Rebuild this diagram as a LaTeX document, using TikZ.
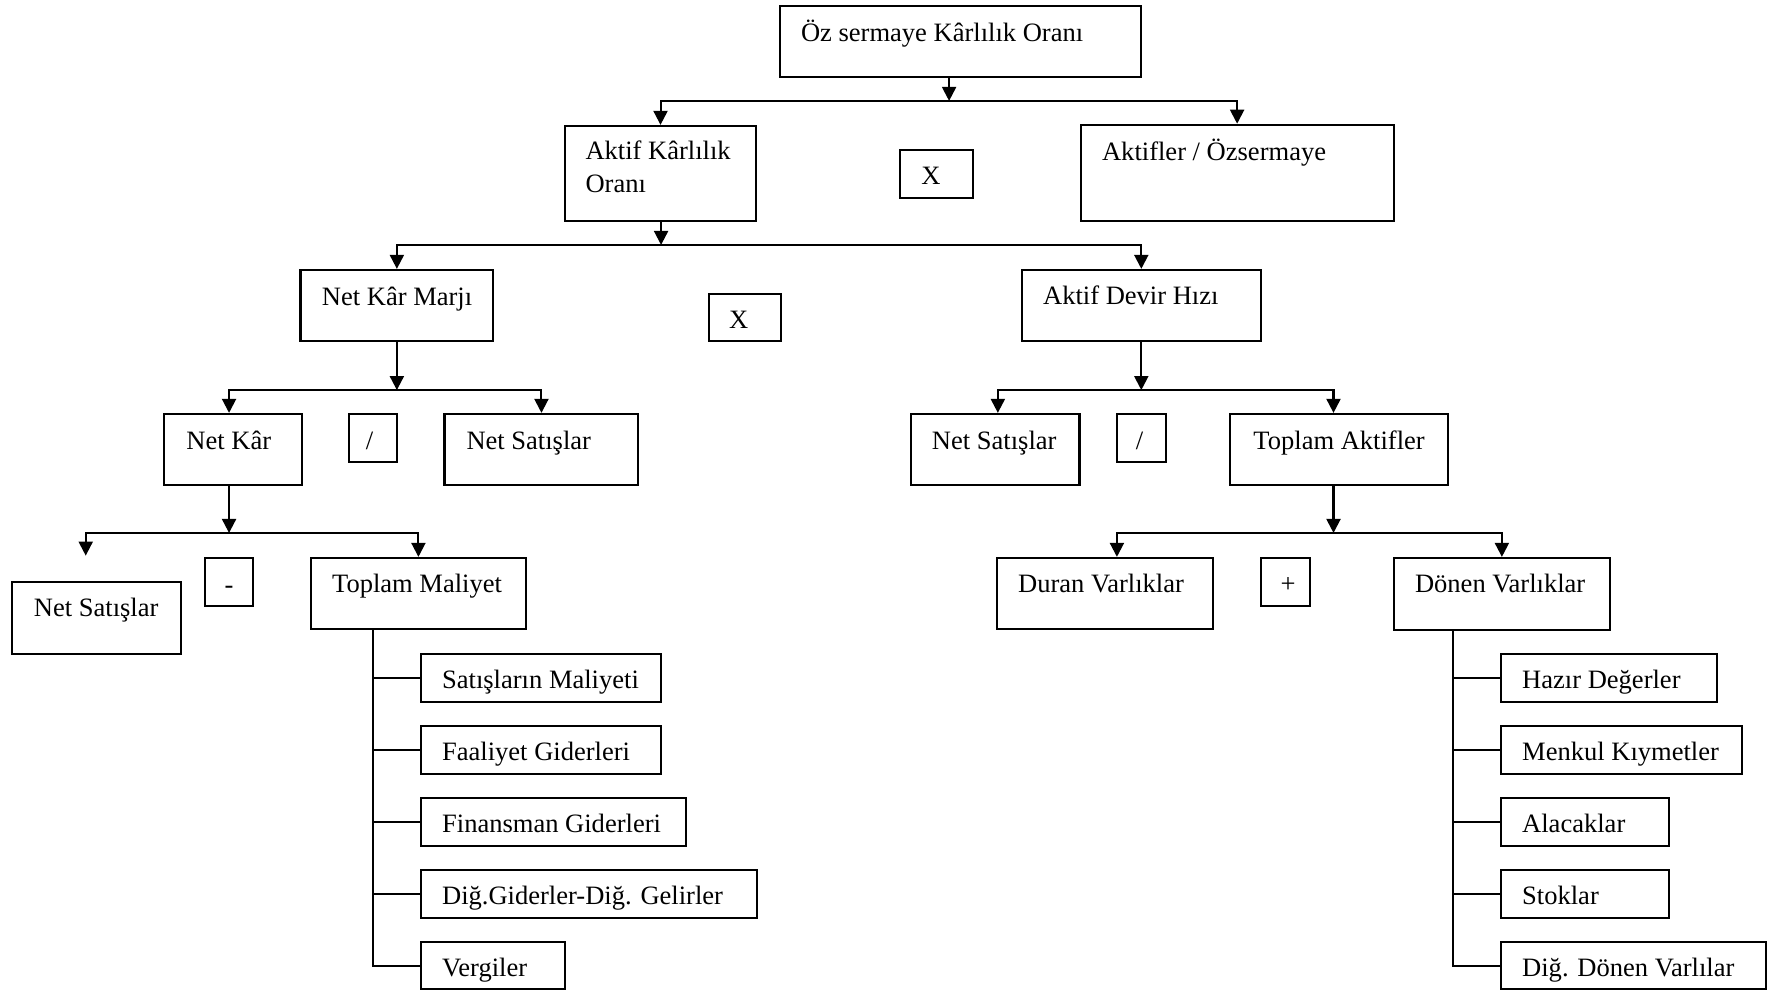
\documentclass[tikz,border=0pt]{standalone}
\usepackage{fontspec}
\setmainfont{Liberation Serif}
\usetikzlibrary{arrows.meta,fit}
\begin{document}
\begin{tikzpicture}[x=0.5pt,y=-0.5pt,
  box/.style={draw, line width=0.9pt, inner sep=0pt},
  lbl/.style={inner sep=0pt, font=\fontsize{11.7pt}{14pt}\selectfont},
  link/.style={line width=0.9pt},
  arr/.style={link, -{Triangle[length=6.2pt,width=6.2pt]}}]
\useasboundingbox (0,0) rectangle (1568,874);

% ---------- level 0 ----------
\node[box, fit={(688,5) (1006,68)}] (oz) {};
\node[lbl, anchor=base west] (oz-t) at (706,37) {Öz sermaye Kârlılık Oranı};

% ---------- level 1 ----------
\node[box, fit={(498,111) (667,195)}] (akt) {};
\node[lbl, anchor=base west] (akt-t1) at (516,141) {Aktif Kârlılık};
\node[lbl, anchor=base west] (akt-t2) at (516,170) {Oranı};
\node[box, fit={(794,132) (858,175)}] (x1) {};
\node[lbl, anchor=base] (x1-t) at (821,163) {X};
\node[box, fit={(953,110) (1229,195)}] (aoz) {};
\node[lbl, anchor=base west] (aoz-t) at (971.5,141.5) {Aktifler / Özsermaye};

% ---------- level 2 ----------
\node[box, fit={(265,238) (435,301)}] (nkm) {};
\node[lbl, anchor=base west] (nkm-t) at (283.5,269) {Net Kâr Marjı};
\node[box, fit={(625,259) (689,301)}] (x2) {};
\node[lbl, anchor=base] (x2-t) at (651.5,289.5) {X};
\node[box, fit={(901,238) (1112,301)}] (adh) {};
\node[lbl, anchor=base west] (adh-t) at (919.5,268.5) {Aktif Devir Hızı};

% ---------- level 3 ----------
\node[box, fit={(145,365) (266,428)}] (nk) {};
\node[lbl, anchor=base west] (nk-t) at (164,396.5) {Net Kâr};
\node[box, fit={(307.5,365) (350.5,407)}] (d1) {};
\node[lbl, anchor=base] (d1-t) at (326,396.5) {/};
\node[box, fit={(392,365) (563,428)}] (ns1) {};
\node[lbl, anchor=base west] (ns1-t) at (411,396.5) {Net Satışlar};

\node[box, fit={(803,365) (952,428)}] (ns2) {};
\node[lbl, anchor=base west] (ns2-t) at (821.5,396) {Net Satışlar};
\node[box, fit={(985,365) (1028,407)}] (d2) {};
\node[lbl, anchor=base] (d2-t) at (1005,396) {/};
\node[box, fit={(1085,365) (1277,428)}] (ta) {};
\node[lbl, anchor=base west] (ta-t) at (1105,396) {Toplam Aktifler};

% ---------- level 4 ----------
\node[box, fit={(11,513) (160,577)}] (ns3) {};
\node[lbl, anchor=base west] (ns3-t) at (29.5,544) {Net Satışlar};
\node[box, fit={(180.5,492) (223,534)}] (mn) {};
\node[lbl, anchor=base] (mn-t) at (202,523) {-};
\node[box, fit={(274,492) (464,555)}] (tm) {};
\node[lbl, anchor=base west] (tm-t) at (292.5,522.5) {Toplam Maliyet};

\node[box, fit={(879,492) (1070,555)}] (dv) {};
\node[lbl, anchor=base west] (dv-t) at (897.5,522.5) {Duran Varlıklar};
\node[box, fit={(1112,492) (1155,534)}] (pl) {};
\node[lbl, anchor=base] (pl-t) at (1136,522.5) {+};
\node[box, fit={(1229,492) (1420,555.5)}] (dn) {};
\node[lbl, anchor=base west] (dn-t) at (1247.5,522.5) {Dönen Varlıklar};

% ---------- cost items ----------
\node[box, fit={(371,576.5) (583,619)}] (c1) {};
\node[lbl, anchor=base west] (c1-t) at (389.5,607) {Satışların Maliyeti};
\node[box, fit={(371,640.5) (583,682.5)}] (c2) {};
\node[lbl, anchor=base west] (c2-t) at (389.5,670.5) {Faaliyet Giderleri};
\node[box, fit={(371,704) (605,746)}] (c3) {};
\node[lbl, anchor=base west] (c3-t) at (389.5,734) {Finansman Giderleri};
\node[box, fit={(371,767.5) (667.5,809.5)}] (c4) {};
\node[lbl, anchor=base west] (c4-t) at (389.5,797.5) {Diğ.Giderler-Diğ. Gelirler};
\node[box, fit={(371,831) (498,872.5)}] (c5) {};
\node[lbl, anchor=base west] (c5-t) at (389.5,861) {Vergiler};

% ---------- current asset items ----------
\node[box, fit={(1323.5,576.5) (1514.5,619)}] (a1) {};
\node[lbl, anchor=base west] (a1-t) at (1342,607) {Hazır Değerler};
\node[box, fit={(1323.5,640.5) (1536,682.5)}] (a2) {};
\node[lbl, anchor=base west] (a2-t) at (1342,670.5) {Menkul Kıymetler};
\node[box, fit={(1323.5,704) (1472,746)}] (a3) {};
\node[lbl, anchor=base west] (a3-t) at (1342,734) {Alacaklar};
\node[box, fit={(1323.5,767.5) (1472,809.5)}] (a4) {};
\node[lbl, anchor=base west] (a4-t) at (1342,797.5) {Stoklar};
\node[box, fit={(1323.5,831) (1557,872.5)}] (a5) {};
\node[lbl, anchor=base west] (a5-t) at (1342,861) {Diğ. Dönen Varlılar};

% ---------- junctions ----------
\coordinate (j1) at (837,89);
\coordinate (j2) at (583,216);
\coordinate (j3) at (350,344);
\coordinate (j4) at (1006.5,344);
\coordinate (j5) at (202,470);
\coordinate (j6) at (1176,470);
\coordinate (nsend) at (75.6,490);
\coordinate (tmx) at (329,555);
\coordinate (dnx) at (1281.7,555.5);

% ---------- connectors ----------
\draw[arr] (oz.south -| j1) -- (j1);
\draw[arr] (j1) -| (akt.north);
\draw[arr] (j1) -| (aoz.north);

\draw[arr] (akt.south -| j2) -- (j2);
\draw[arr] (j2) -| (nkm.north);
\draw[arr] (j2) -| (adh.north);

\draw[arr] (nkm.south) -- (j3);
\draw[arr] (j3) -| ([xshift=-1.75pt]nk.north);
\draw[arr] (j3) -| (ns1.north);

\draw[arr] (adh.south) -- (j4);
\draw[arr] (j4) -| ([xshift=1.25pt]ns2.north);
\draw[arr] (j4) -| ([xshift=-2.5pt]ta.north);

\draw[arr] ([xshift=-1.75pt]nk.south) -- (j5);
\draw[arr] (j5) -| (nsend);
\draw[arr] (j5) -| (tm.north);

\draw[arr] ([xshift=-2.5pt]ta.south) -- (j6);
\draw[arr] (j6) -| ([xshift=5.25pt]dv.north);
\draw[arr] (j6) -| (dn.north);

\foreach \c in {c1,c2,c3,c4,c5} \draw[link] (tmx) |- (\c.west);
\foreach \c in {a1,a2,a3,a4,a5} \draw[link] (dnx) |- (\c.west);
\end{tikzpicture}
\end{document}
